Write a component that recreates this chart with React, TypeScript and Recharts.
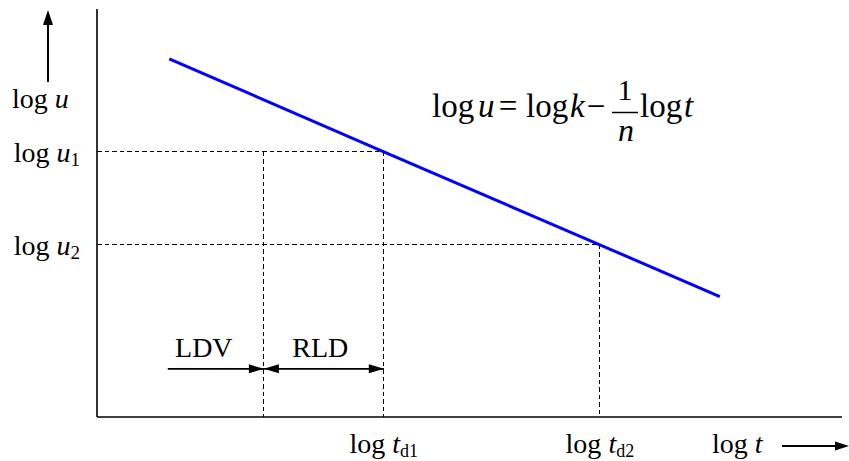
import React from 'react';
import { LineChart, Line, XAxis, YAxis, ReferenceLine, Customized } from 'recharts';

// log t positions (axis runs 0..10)
const logT = [0.97, 3.85, 6.75, 8.36];
// log u on the fitted line at those positions
const logU = [8.78, 6.5, 4.22, 2.95];

const uTicks = [6.5, 4.22];
const uSubs = ['1', '2'];
const tdTicks = [3.85, 6.75];
const tdSubs = ['d1', 'd2'];

// LDV / RLD spans along log t
const ldvStart = 0.95;
const ldvEnd = 2.24;
const spanU = 1.18;

const lineData = logT.map((t, i) => ({ t, u: logU[i] }));

const FONT = "'Liberation Serif', 'DejaVu Serif', serif";
const W = 849;
const H = 461;

const YTick = ({ x, y, payload }: any) => {
  const i = uTicks.indexOf(payload.value);
  return (
    <text x={x} y={y + 10} textAnchor="end" fontFamily={FONT} fontSize={28} fill="#000">
      log{' '}
      <tspan fontStyle="italic">u</tspan>
      <tspan fontSize={19} dy={4}>{uSubs[i]}</tspan>
    </text>
  );
};

const XTick = ({ x, y, payload }: any) => {
  const i = tdTicks.indexOf(payload.value);
  return (
    <text x={x} y={y} textAnchor="middle" fontFamily={FONT} fontSize={28} fill="#000">
      log{' '}
      <tspan fontStyle="italic">t</tspan>
      <tspan fontSize={18} dy={4}>{tdSubs[i]}</tspan>
    </text>
  );
};

const head = (tx: number, ty: number, dir: number, len = 15, half = 4.5) => (
  <polygon
    points={`${tx},${ty} ${tx - dir * len},${ty - half} ${tx - dir * len},${ty + half}`}
    fill="#000"
  />
);

const arrowShape = (both: boolean) => (props: any) => {
  const { x1, y1, x2, y2 } = props;
  return (
    <g>
      <line x1={x1} y1={y1} x2={x2} y2={y2} stroke="#000" strokeWidth={1.8} />
      {head(x2, y2, 1)}
      {both && head(x1, y1, -1)}
    </g>
  );
};

const spanLabel = (text: string, dx: number) => (props: any) => {
  const { viewBox } = props;
  return (
    <text
      x={viewBox.x + viewBox.width / 2 + dx}
      y={viewBox.y - 11.5}
      textAnchor="middle"
      fontFamily={FONT}
      fontSize={28}
      fill="#000"
    >
      {text}
    </text>
  );
};

const Annotations = () => (
  <g fontFamily={FONT} fill="#000">
    {/* y axis name */}
    <line x1={48} y1={82} x2={48} y2={20} stroke="#000" strokeWidth={2} />
    <polygon points="48,10 43,25 53,25" fill="#000" />
    <text x={12} y={108} fontSize={28}>
      log <tspan fontStyle="italic">u</tspan>
    </text>
    {/* x axis name */}
    <text x={712} y={453} fontSize={28}>
      log <tspan fontStyle="italic">t</tspan>
    </text>
    <line x1={782} y1={446} x2={840} y2={446} stroke="#000" strokeWidth={1.8} />
    <polygon points="849,446 835,441.5 835,450.5" fill="#000" />
    {/* equation */}
    <text x={432} y={117} fontSize={33}>log</text>
    <text x={478} y={117} fontSize={33} fontStyle="italic">u</text>
    <text x={508} y={117} fontSize={33} textAnchor="middle">=</text>
    <text x={526} y={117} fontSize={33}>log</text>
    <text x={570} y={117} fontSize={33} fontStyle="italic">k</text>
    <text x={596} y={117} fontSize={33} textAnchor="middle">−</text>
    <text x={625} y={100} fontSize={30} textAnchor="middle">1</text>
    <line x1={612} y1={112.5} x2={638} y2={112.5} stroke="#000" strokeWidth={1.5} />
    <text x={626} y={141} fontSize={32} fontStyle="italic" textAnchor="middle">n</text>
    <text x={640} y={117} fontSize={33}>log</text>
    <text x={684} y={117} fontSize={33} fontStyle="italic">t</text>
  </g>
);

const dash = { stroke: '#000', strokeWidth: 1.2, strokeDasharray: '4.5 3', shapeRendering: 'crispEdges' };

export default function App() {
  return (
    <div style={{ position: 'absolute', left: 0, top: 0, width: W, height: H, background: '#fff' }}>
      <LineChart width={W} height={H} data={lineData} margin={{ top: 9, right: 7, bottom: 0, left: 0 }}>
        <XAxis
          dataKey="t"
          type="number"
          domain={[0, 10]}
          ticks={tdTicks}
          height={44}
          tickSize={0}
          tickMargin={36}
          tickLine={false}
          tick={<XTick />}
          axisLine={{ stroke: '#000', strokeWidth: 1.6 }}
        />
        <YAxis
          type="number"
          domain={[0, 10]}
          ticks={uTicks}
          width={97}
          tickSize={0}
          tickMargin={17}
          tickLine={false}
          tick={<YTick />}
          axisLine={{ stroke: '#000', strokeWidth: 1.6 }}
        />
        <ReferenceLine segment={[{ x: 0, y: uTicks[0] }, { x: tdTicks[0], y: uTicks[0] }]} {...dash} />
        <ReferenceLine segment={[{ x: tdTicks[0], y: uTicks[0] }, { x: tdTicks[0], y: 0 }]} {...dash} />
        <ReferenceLine segment={[{ x: ldvEnd, y: uTicks[0] }, { x: ldvEnd, y: 0 }]} {...dash} />
        <ReferenceLine segment={[{ x: 0, y: uTicks[1] }, { x: tdTicks[1], y: uTicks[1] }]} {...dash} />
        <ReferenceLine segment={[{ x: tdTicks[1], y: uTicks[1] }, { x: tdTicks[1], y: 0 }]} {...dash} />
        <ReferenceLine
          segment={[{ x: ldvStart, y: spanU }, { x: ldvEnd, y: spanU }]}
          shape={arrowShape(false)}
          label={spanLabel('LDV', -12)}
        />
        <ReferenceLine
          segment={[{ x: ldvEnd, y: spanU }, { x: tdTicks[0], y: spanU }]}
          shape={arrowShape(true)}
          label={spanLabel('RLD', -3.5)}
        />
        <Line dataKey="u" stroke="#0000ff" strokeWidth={3} dot={false} isAnimationActive={false} />
        <Customized component={Annotations} />
      </LineChart>
    </div>
  );
}
